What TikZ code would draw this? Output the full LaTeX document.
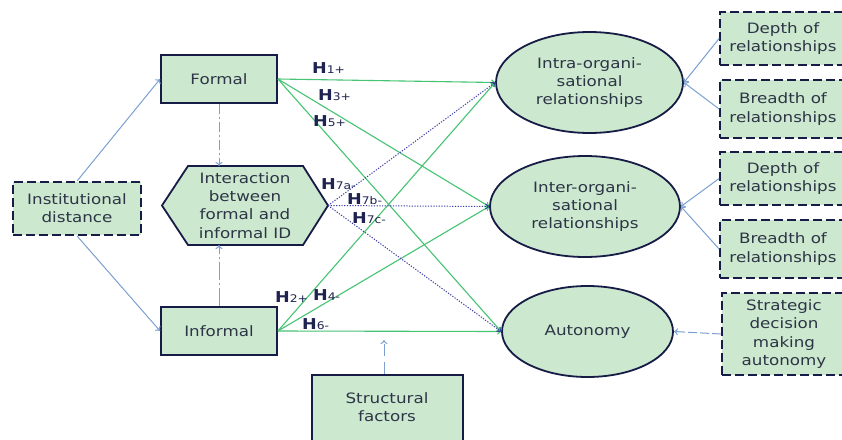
\documentclass[tikz,border=0pt]{standalone}
\usepackage{fontspec}
\setmainfont{DejaVu Sans}[FakeStretch=1.17]
\usetikzlibrary{arrows.meta,shapes.geometric}
\definecolor{boxfill}{RGB}{204,232,207}
\definecolor{bordercol}{RGB}{22,28,70}
\definecolor{txtcol}{RGB}{45,52,70}
\definecolor{greenln}{RGB}{70,195,115}
\definecolor{blueln}{RGB}{125,160,210}
\definecolor{navyln}{RGB}{60,60,165}
\definecolor{hcol}{RGB}{30,35,80}
\begin{document}
\begin{tikzpicture}[x=1pt,y=-1pt,
  boxtext/.style={font=\fontsize{14.3}{18.3}\selectfont, text=txtcol, align=center},
  solidbox/.style={boxtext, draw=bordercol, fill=boxfill, line width=1.8pt, inner sep=0pt},
  dashbox/.style={boxtext, draw=bordercol, fill=boxfill, line width=1.8pt, dash pattern=on 9pt off 4pt, inner sep=0pt},
  ell/.style={boxtext, ellipse, draw=bordercol, fill=boxfill, line width=1.8pt, inner sep=0pt},
  garrow/.style={draw=greenln, line width=1.1pt, -{To[length=4pt,width=6pt]}},
  barrow/.style={draw=blueln, line width=1pt, -{To[length=4pt,width=7pt]}},
  narrow/.style={draw=navyln, line width=1pt, dash pattern=on 1.2pt off 1.5pt, -{To[length=4pt,width=6pt]}},
  hlab/.style={text=hcol, inner sep=0pt, anchor=west, font=\fontsize{15}{15}\selectfont\bfseries},
  hsub/.style={}
]
\clip (0,0) rectangle (842,439);
\fill[white] (0,0) rectangle (842,439);
\useasboundingbox (0,0) rectangle (842,439);

% left side
\node[solidbox, minimum width=116pt, minimum height=48pt] (formal) at (219,79) {Formal};
\node[solidbox, minimum width=116pt, minimum height=48pt] (informal) at (219,331) {Informal};
\node[dashbox, minimum width=128pt, minimum height=53pt] (inst) at (77,208.5) {Institutional\\distance};

% hexagon
\draw[draw=bordercol, fill=boxfill, line width=1.8pt, line join=miter]
  (162,205.5) -- (188,166) -- (303,166) -- (328,205.5) -- (303,245) -- (188,245) -- cycle;
\node[boxtext] (hex) at (245,205.5) {Interaction\\between\\formal and\\informal ID};
\coordinate (hexT) at (219,166);
\coordinate (hexB) at (219,245);
\coordinate (hexR) at (328,205.5);

% ellipses
\node[ell, minimum width=187pt, minimum height=101pt] (intra) at (589.5,82.5) {Intra-organi-\\sational\\relationships};
\node[ell, minimum width=190pt, minimum height=101pt] (inter) at (585,206.5) {Inter-organi-\\sational\\relationships};
\node[ell, minimum width=171pt, minimum height=91pt] (auto) at (587.5,331.5) {Autonomy};

% right boxes
\node[dashbox, minimum width=126pt, minimum height=53pt] (depthA) at (783,38.5) {Depth of\\relationships};
\node[dashbox, minimum width=126pt, minimum height=58pt] (breadthA) at (783,109) {Breadth of\\relationships};
\node[dashbox, minimum width=126pt, minimum height=53pt] (depthB) at (783,178.5) {Depth of\\relationships};
\node[dashbox, minimum width=126pt, minimum height=58pt] (breadthB) at (783,249) {Breadth of\\relationships};
\node[dashbox, minimum width=124pt, minimum height=82pt] (strat) at (784,334) {Strategic\\decision\\making\\autonomy};

% structural factors
\node[solidbox, minimum width=151pt, minimum height=80pt, anchor=north] (struct) at (387.5,374) {};
\node[boxtext] (structtxt) at (387,407.5) {Structural\\factors};
\coordinate (structEnd) at (384,340);

% connectors
\draw[barrow] (inst.north) -- (formal.west);
\draw[barrow] (inst.south) -- (informal.west);
\draw[barrow, dash pattern=on 10pt off 3pt on 2pt off 3pt] (formal.south) -- (hexT);
\draw[barrow, dash pattern=on 18pt off 3pt on 2pt off 3pt] (informal.north) -- (hexB);

\draw[garrow] (formal.east) -- (intra.west);
\draw[garrow] (formal.east) -- (inter.west);
\draw[garrow] (formal.east) -- (auto.west);
\draw[garrow] (informal.east) -- (intra.west);
\draw[garrow] (informal.east) -- (inter.west);
\draw[garrow] (informal.east) -- (auto.west);

\draw[narrow] (hexR) -- (intra.west);
\draw[narrow] (hexR) -- (inter.west);
\draw[narrow] (hexR) -- (auto.west);

\draw[barrow] (depthA.west) -- (intra.east);
\draw[barrow] (breadthA.west) -- (intra.east);
\draw[barrow] (depthB.west) -- (inter.east);
\draw[barrow] (breadthB.west) -- (inter.east);
\draw[barrow, dash pattern=on 9pt off 3pt] (strat.west) -- (auto.east);
\draw[barrow, dash pattern=on 12pt off 6pt] (struct.north -| structEnd) -- (structEnd);

% labels
\newcommand{\hs}[1]{{\fontsize{10.5}{10.5}\selectfont\mdseries #1}}
\node[hlab] (h1) at (312,68) {H\hs{1+}};
\node[hlab] (h3) at (318,95) {H\hs{3+}};
\node[hlab] (h5) at (313,121) {H\hs{5+}};
\node[hlab] (h7a) at (321,184) {H\hs{7a-}};
\node[hlab] (h7b) at (347,199) {H\hs{7b-}};
\node[hlab] (h7c) at (352,218) {H\hs{7c-}};
\node[hlab] (h2) at (275,297) {H\hs{2+}};
\node[hlab] (h4) at (313,295) {H\hs{4-}};
\node[hlab] (h6) at (302,324) {H\hs{6-}};
\end{tikzpicture}
\end{document}
